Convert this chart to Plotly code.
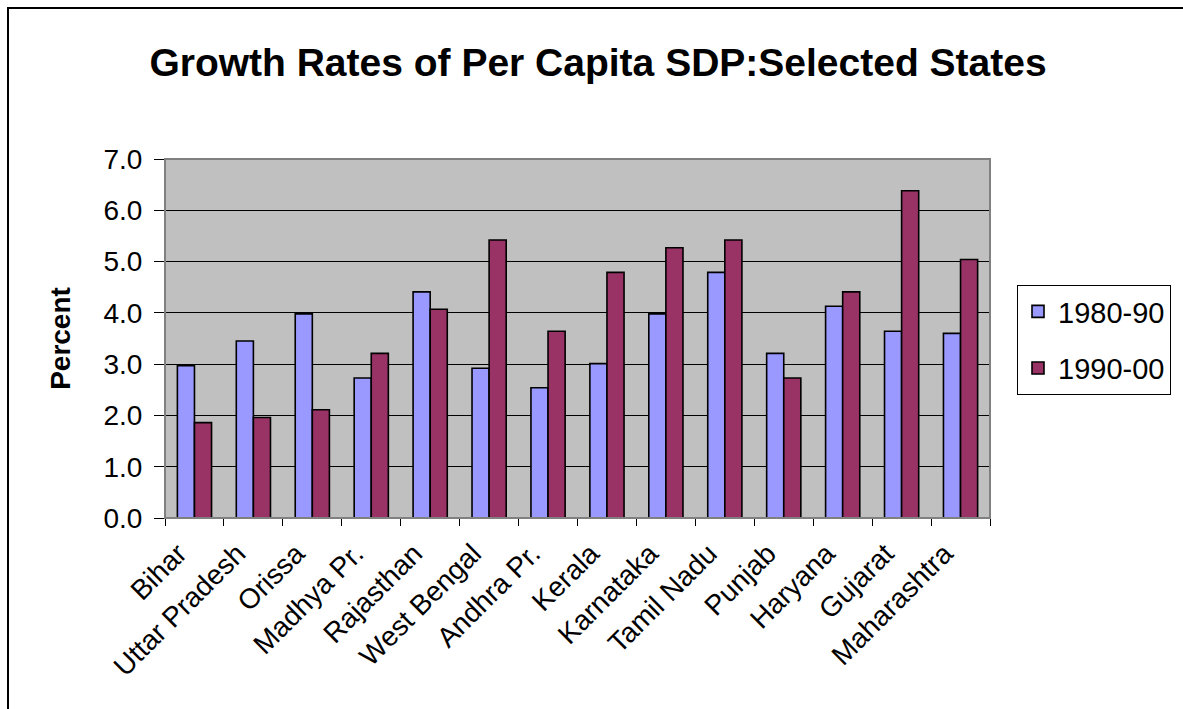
import plotly.graph_objects as go

states = ["Bihar", "Uttar Pradesh", "Orissa", "Madhya Pr.", "Rajasthan",
          "West Bengal", "Andhra Pr.", "Kerala", "Karnataka", "Tamil Nadu",
          "Punjab", "Haryana", "Gujarat", "Maharashtra"]
growth_1980_90 = [2.97, 3.45, 3.98, 2.73, 4.41, 2.92, 2.54, 3.01, 3.98, 4.79,
                  3.21, 4.13, 3.64, 3.60]
growth_1990_00 = [1.86, 1.96, 2.11, 3.21, 4.07, 5.42, 3.64, 4.79, 5.27, 5.42,
                  2.73, 4.41, 6.38, 5.04]
y_ticks = [0, 1, 2, 3, 4, 5, 6, 7]

FONT = "Arial, Liberation Sans, sans-serif"

fig = go.Figure()
fig.add_trace(go.Bar(x=states, y=growth_1980_90, name="1980-90", legendgroup="a",
                     marker=dict(color="#9999FF", line=dict(color="black", width=1.6))))
fig.add_trace(go.Bar(x=states, y=growth_1990_00, name="1990-00", legendgroup="b",
                     marker=dict(color="#993366", line=dict(color="black", width=1.6))))

# plot area: x 165..990 px, y 159..518 px
L, R, T, B = 165, 990, 159, 518
W, H = 1183, 709
pw, ph = R - L, B - T

def px_x(p):
    return (p - L) / pw

def px_y(p):
    return (B - p) / ph

fig.update_layout(
    width=W, height=H,
    margin=dict(l=L, r=W - R, t=T, b=H - B, pad=0),
    paper_bgcolor="white",
    plot_bgcolor="#C0C0C0",
    font=dict(family=FONT, color="black"),
    barmode="group",
    bargap=0.42,
    bargroupgap=0,
    title=dict(text="<b>Growth Rates of Per Capita SDP:Selected States</b>",
               font=dict(size=39, family=FONT, color="black"),
               x=px_x(598), xref="paper", xanchor="center",
               y=1 - 62 / H, yref="container", yanchor="middle"),
    xaxis=dict(
        type="category",
        tickangle=-45,
        tickfont=dict(size=28, family=FONT),
        ticks="outside", ticklen=7, tickcolor="black", tickwidth=1,
        tickson="boundaries",
        ticklabelshift=-16,
        ticklabelstandoff=7,
        showline=True, linecolor="black", linewidth=1,
        showgrid=False,
    ),
    yaxis=dict(
        range=[0, 7],
        tickvals=y_ticks,
        tickformat=".1f",
        tickfont=dict(size=28, family=FONT),
        ticks="outside", ticklen=10, tickcolor="black", tickwidth=1,
        ticklabelstandoff=6,
        showline=True, linecolor="black", linewidth=1,
        showgrid=True, gridcolor="black", gridwidth=1,
        zeroline=False,
        title=dict(text="<b>Percent</b>", font=dict(size=28, family=FONT), standoff=24),
    ),
    legend=dict(
        x=px_x(1017), y=px_y(285), xanchor="left", yanchor="top",
        bgcolor="white", bordercolor="black", borderwidth=1,
        font=dict(size=29, family=FONT),
        itemwidth=30,
        tracegroupgap=16,
    ),
    shapes=[
        # plot area border
        dict(type="rect", xref="paper", yref="paper", x0=0, x1=1, y0=0, y1=1,
             line=dict(color="#808080", width=2), layer="above"),
        # outer chart frame
        dict(type="rect", xref="paper", yref="paper",
             x0=px_x(8), x1=px_x(1300), y0=px_y(900), y1=px_y(8),
             line=dict(color="black", width=2), layer="above"),
    ],
)

fig.write_html("out.html")
